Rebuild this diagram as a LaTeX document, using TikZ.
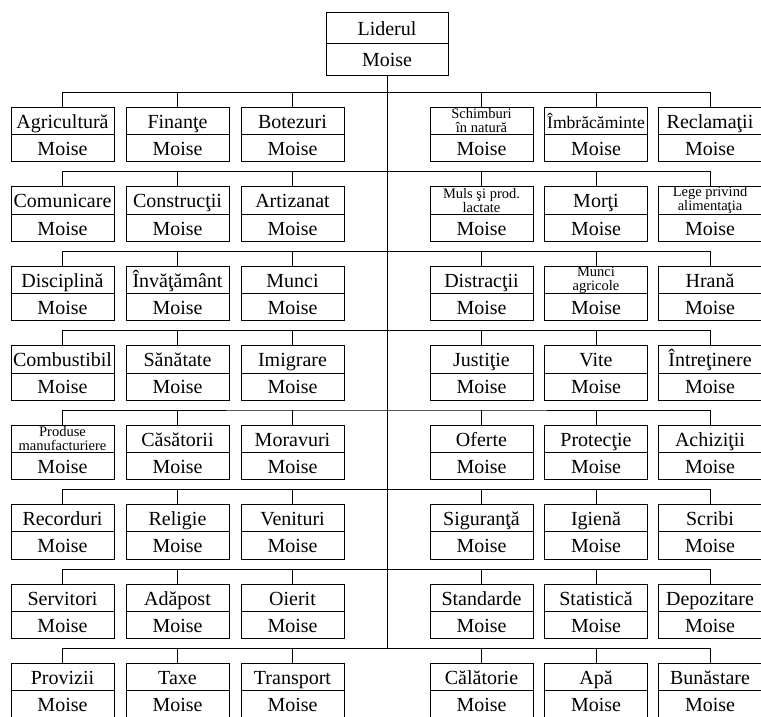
\documentclass[tikz,border=0pt]{standalone}
\usepackage{fontspec}
\setmainfont{Liberation Serif}
\usetikzlibrary{positioning}

\newcommand{\post}[5][sus]{% style, name, x, y, label
  \node[#1] (#2) at (#3,#4) {#5};
  \node[jos, below=0pt of #2] (#2m) {Moise};}

\begin{document}
\begin{tikzpicture}[x=1pt,y=-1pt,line width=0.6pt,
    sus/.style={draw, minimum width=103pt, minimum height=27.2pt, inner sep=0pt, outer sep=0pt,
      text height=15pt, text depth=0pt, font=\fontsize{20}{22}\selectfont},
    jos/.style={sus},
    susmic/.style={sus, text height={}, text depth={}, align=center, font=\fontsize{14.5}{14}\selectfont},
    sef/.style={sus, minimum width=122pt, minimum height=31.5pt}]
            \useasboundingbox (0,0) rectangle (761,716);
            % liderul
            \node[sef] (lider) at (387,27.75) {Liderul};
            \node[sef, below=0pt of lider] (liderm) {Moise};
            % randurile
            \post{agricultura}{62.5}{120.9}{Agricultură}
            \post{finante}{177.5}{120.9}{Finanţe}
            \post{botezuri}{292.5}{120.9}{Botezuri}
            \post[susmic]{schimburi}{481.5}{120.9}{Schimburi\\în natură}
            \post[sus, font=\fontsize{17.6}{20}\selectfont]{imbracaminte}{596}{120.9}{Îmbrăcăminte}
            \post{reclamatii}{710}{120.9}{Reclamaţii}

            \post{comunicare}{62.5}{200.3}{Comunicare}
            \post{constructii}{177.5}{200.3}{Construcţii}
            \post{artizanat}{292.5}{200.3}{Artizanat}
            \post[susmic]{muls}{481.5}{200.3}{Muls şi prod.\\lactate}
            \post{morti}{596}{200.3}{Morţi}
            \post[susmic]{lege}{710}{200.3}{Lege privind\\alimentaţia}

            \post{disciplina}{62.5}{279.8}{Disciplină}
            \post{invatamant}{177.5}{279.8}{Învăţământ}
            \post{munci}{292.5}{279.8}{Munci}
            \post{distractii}{481.5}{279.8}{Distracţii}
            \post[susmic]{munciagr}{596}{279.8}{Munci\\agricole}
            \post{hrana}{710}{279.8}{Hrană}

            \post{combustibil}{62.5}{359.2}{Combustibil}
            \post{sanatate}{177.5}{359.2}{Sănătate}
            \post{imigrare}{292.5}{359.2}{Imigrare}
            \post{justitie}{481.5}{359.2}{Justiţie}
            \post{vite}{596}{359.2}{Vite}
            \post{intretinere}{710}{359.2}{Întreţinere}

            \post[susmic]{produse}{62.5}{438.6}{Produse\\manufacturiere}
            \post{casatorii}{177.5}{438.6}{Căsătorii}
            \post{moravuri}{292.5}{438.6}{Moravuri}
            \post{oferte}{481.5}{438.6}{Oferte}
            \post{protectie}{596}{438.6}{Protecţie}
            \post{achizitii}{710}{438.6}{Achiziţii}

            \post{recorduri}{62.5}{518.1}{Recorduri}
            \post{religie}{177.5}{518.1}{Religie}
            \post{venituri}{292.5}{518.1}{Venituri}
            \post{siguranta}{481.5}{518.1}{Siguranţă}
            \post{igiena}{596}{518.1}{Igienă}
            \post{scribi}{710}{518.1}{Scribi}

            \post{servitori}{62.5}{597.5}{Servitori}
            \post{adapost}{177.5}{597.5}{Adăpost}
            \post{oierit}{292.5}{597.5}{Oierit}
            \post{standarde}{481.5}{597.5}{Standarde}
            \post{statistica}{596}{597.5}{Statistică}
            \post{depozitare}{710}{597.5}{Depozitare}

            \post{provizii}{62.5}{676.9}{Provizii}
            \post{taxe}{177.5}{676.9}{Taxe}
            \post{transport}{292.5}{676.9}{Transport}
            \post{calatorie}{481.5}{676.9}{Călătorie}
            \post{apa}{596}{676.9}{Apă}
            \post{bunastare}{710}{676.9}{Bunăstare}

            % linii
            \coordinate (r0) at (387,92.3);
            \coordinate (r1) at (387,171.7);
            \coordinate (r2) at (387,251.2);
            \coordinate (r3) at (387,330.6);
            \coordinate (r4) at (387,410.0);
            \coordinate (r5) at (387,489.5);
            \coordinate (r6) at (387,568.9);
            \coordinate (r7) at (387,648.3);
            \draw (liderm.south) -- (r7);
            \draw (agricultura.north) |- (r0) -| (reclamatii.north);
            \draw (comunicare.north) |- (r1) -| (lege.north);
            \draw (disciplina.north) |- (r2) -| (hrana.north);
            \draw (combustibil.north) |- (r3) -| (intretinere.north);
            \draw (produse.north) |- (r4) -| (achizitii.north);
            \draw (recorduri.north) |- (r5) -| (scribi.north);
            \draw (servitori.north) |- (r6) -| (depozitare.north);
            \draw (provizii.north) |- (r7) -| (bunastare.north);
            \foreach \n in {finante,botezuri,schimburi,imbracaminte} \draw (\n.north) -- (\n.north |- r0);
            \foreach \n in {constructii,artizanat,muls,morti} \draw (\n.north) -- (\n.north |- r1);
            \foreach \n in {invatamant,munci,distractii,munciagr} \draw (\n.north) -- (\n.north |- r2);
            \foreach \n in {sanatate,imigrare,justitie,vite} \draw (\n.north) -- (\n.north |- r3);
            \foreach \n in {casatorii,moravuri,oferte,protectie} \draw (\n.north) -- (\n.north |- r4);
            \foreach \n in {religie,venituri,siguranta,igiena} \draw (\n.north) -- (\n.north |- r5);
            \foreach \n in {adapost,oierit,standarde,statistica} \draw (\n.north) -- (\n.north |- r6);
            \foreach \n in {taxe,transport,calatorie,apa} \draw (\n.north) -- (\n.north |- r7);
        \end{tikzpicture}
\end{document}
